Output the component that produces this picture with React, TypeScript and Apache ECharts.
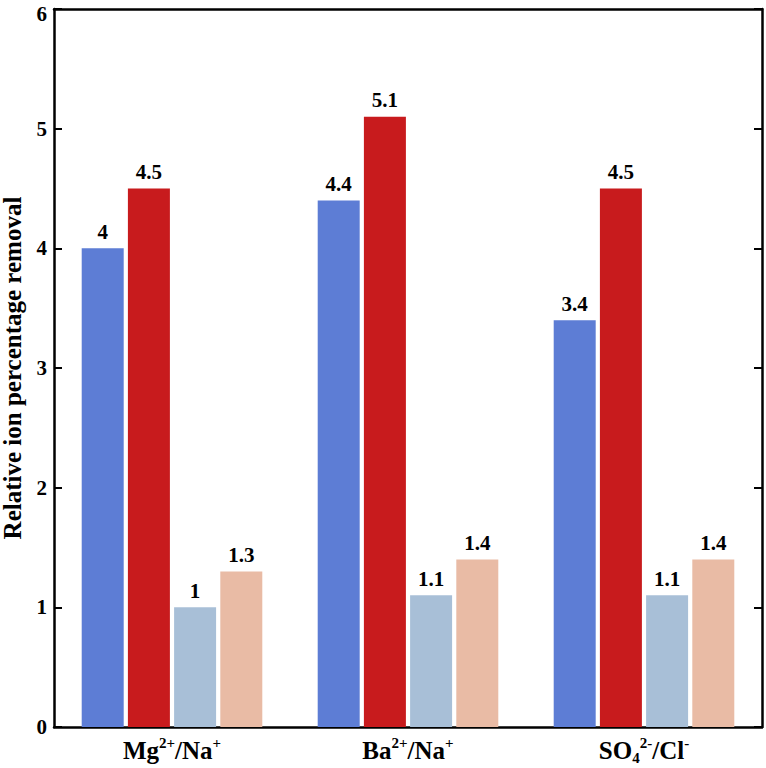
import React, { useEffect, useRef } from "react";
import * as echarts from "echarts";

const categories = ["Mg2+/Na+", "Ba2+/Na+", "SO42-/Cl-"];
const categoryRich: Record<string, string> = {
  "Mg2+/Na+": "{m|Mg}{sup|2+}{m|/Na}{sup|+}",
  "Ba2+/Na+": "{m|Ba}{sup|2+}{m|/Na}{sup|+}",
  "SO42-/Cl-": "{m|SO}{sub|4}{sup|2-}{m|/Cl}{sup|-}",
};
const seriesNames = ["Series 1", "Series 2", "Series 3", "Series 4"];
const series1 = [4, 4.4, 3.4];
const series2 = [4.5, 5.1, 4.5];
const series3 = [1, 1.1, 1.1];
const series4 = [1.3, 1.4, 1.4];
const colors = ["#5d7dd5", "#c81b1d", "#a8bfd7", "#e9bba5"];
const yTicks = [0, 1, 2, 3, 4, 5, 6];

const FONT = "Times New Roman, Liberation Serif, serif";

export default function App() {
  const ref = useRef<HTMLDivElement>(null);
  useEffect(() => {
    if (!ref.current) return;
    const chart = echarts.init(ref.current, null, { renderer: "svg" });
    const data = [series1, series2, series3, series4];
    const yMax = yTicks[yTicks.length - 1];
    chart.setOption({
      animation: false,
      backgroundColor: "#ffffff",
      textStyle: { fontFamily: FONT },
      grid: { left: 54, right: 4, top: 9, bottom: 41, containLabel: false, outerBoundsMode: "none" },
      xAxis: [
        {
          type: "category",
          data: categories,
          position: "bottom",
          axisLine: { show: true, lineStyle: { color: "#000", width: 2.5 } },
          axisTick: { show: false },
          axisLabel: {
            interval: 0,
            margin: 8,
            formatter: (v: string) => categoryRich[v] || v,
            rich: {
              m: { fontFamily: FONT, fontWeight: "bold", fontSize: 25, color: "#000", lineHeight: 30 },
              sup: { fontFamily: FONT, fontWeight: "bold", fontSize: 15, color: "#000", verticalAlign: "top", lineHeight: 15 },
              sub: { fontFamily: FONT, fontWeight: "bold", fontSize: 15, color: "#000", verticalAlign: "bottom", lineHeight: 15 },
            },
          },
        },
        {
          type: "category",
          data: categories,
          position: "top",
          axisLine: { show: true, onZero: false, lineStyle: { color: "#000", width: 2.5 } },
          axisTick: { show: false },
          axisLabel: { show: false },
        },
      ],
      yAxis: [
        {
          type: "value",
          min: yTicks[0],
          max: yMax,
          interval: 1,
          position: "left",
          name: "Relative ion percentage removal",
          nameLocation: "middle",
          nameGap: 31,
          nameTextStyle: { fontFamily: FONT, fontWeight: "bold", fontSize: 25, lineHeight: 22, color: "#000" },
          axisLine: { show: true, lineStyle: { color: "#000", width: 2.5 } },
          axisTick: { show: true, inside: true, length: 8, lineStyle: { color: "#000", width: 2 } },
          axisLabel: {
            margin: 7,
            formatter: (v: number) => (v === yMax ? `{t|${v}}` : `{n|${v}}`),
            rich: {
              n: { fontFamily: FONT, fontWeight: "bold", fontSize: 21, color: "#000" },
              t: { fontFamily: FONT, fontWeight: "bold", fontSize: 21, color: "#000", padding: [10, 0, 0, 0] },
            },
          },
          splitLine: { show: false },
        },
        {
          type: "value",
          min: yTicks[0],
          max: yMax,
          interval: 1,
          position: "right",
          axisLine: { show: true, lineStyle: { color: "#000", width: 2.5 } },
          axisTick: { show: true, inside: true, length: 8, lineStyle: { color: "#000", width: 2 } },
          axisLabel: { show: false },
          splitLine: { show: false },
        },
      ],
      series: data.map((d, i) => ({
        name: seriesNames[i],
        type: "bar",
        data: d,
        barWidth: 42,
        barGap: "10%",
        itemStyle: { color: colors[i] },
        label: {
          show: true,
          position: "top",
          distance: 6,
          fontFamily: FONT,
          fontWeight: "bold",
          fontSize: 21,
          color: "#000",
        },
      })),
    });
    return () => chart.dispose();
  }, []);
  return <div ref={ref} style={{ position: "fixed", left: 0, top: 0, width: 766, height: 768 }} />;
}
